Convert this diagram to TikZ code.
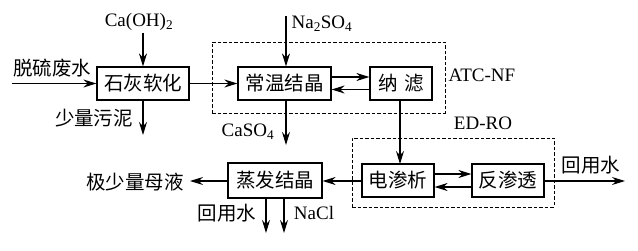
\documentclass[tikz,border=0pt]{standalone}
\usepackage{fontspec}
\setmainfont{Liberation Serif}
\newfontfamily\cjk{Noto Sans CJK SC}
\usetikzlibrary{arrows.meta}
\begin{document}
\begin{tikzpicture}[x=1pt,y=-1pt,
  box/.style={draw,line width=1.2pt,minimum height=33pt,inner sep=0pt,font=\cjk\fontsize{19.5}{19.5}\selectfont},
  lbl/.style={inner sep=0pt,font=\fontsize{19}{19}\selectfont},
  clbl/.style={inner sep=0pt,font=\cjk\fontsize{19.5}{19.5}\selectfont},
  arr/.style={line width=1.2pt,-{Stealth[length=13pt,width=8pt]}},
  grp/.style={draw,line width=0.9pt,dash pattern=on 3.5pt off 2pt}]
\useasboundingbox (0,0) rectangle (638,251);
% group boxes
\node[grp,minimum width=233pt,minimum height=71pt] (atc) at (328.5,77.5) {};
\node[grp,minimum width=202pt,minimum height=69pt] (edro) at (453,172.5) {};
% process boxes
\node[box,minimum width=92pt] (rhj) at (143,83.5) {石灰软化};
\node[box,minimum width=93pt] (cwjj) at (284.5,83.5) {常温结晶};
\node[box,minimum width=62pt] (nl) at (401,83.5) {纳\,\,滤};
\node[box,minimum width=72pt] (eds) at (398,180.5) {电渗析};
\node[box,minimum width=72pt] (fst) at (508,180.5) {反渗透};
\node[box,minimum width=94pt,minimum height=35pt] (zfjj) at (275,180.5) {蒸发结晶};
% labels
\node[clbl] (tlfs) at (52,68) {脱硫废水};
\node[lbl] (caoh) at (139,22) {Ca(OH)\textsubscript{2}};
\node[clbl] (slwn) at (94,118) {少量污泥};
\node[lbl] (na2so4) at (322,24) {Na\textsubscript{2}SO\textsubscript{4}};
\node[lbl] (atcnf) at (482,75) {ATC-NF};
\node[lbl] (caso4) at (248,132) {CaSO\textsubscript{4}};
\node[lbl] (edrol) at (483,123) {ED-RO};
\node[clbl] (hys1) at (591,165) {回用水};
\node[clbl] (jslmy) at (135,182) {极少量母液};
\node[clbl] (hys2) at (227,213) {回用水};
\node[lbl] (nacl) at (314,213) {NaCl};
% free ends
\coordinate (in0) at (12,83.5);
\coordinate (caohA) at (143,33);
\coordinate (slwnB) at (143,135);
\coordinate (naA) at (286,16);
\coordinate (casoB) at (286,145);
\coordinate (hysB) at (625,181);
\coordinate (mylB) at (190,181);
\coordinate (d1B) at (266,233);
\coordinate (d2B) at (284,233);
\coordinate (edsN) at (400,164);
% connectors
\draw[arr] (in0) -- (rhj.west);
\draw[arr] (caohA) -- (rhj.north);
\draw[arr] (rhj.south) -- (slwnB);
\draw[arr] (rhj.east) -- (cwjj.west);
\draw[arr] (naA) -- (naA |- cwjj.north);
\draw[arr] (casoB |- cwjj.south) -- (casoB);
\draw[arr] (cwjj.east |- 0,77) -- (nl.west |- 0,77);
\draw[arr] (nl.west |- 0,89.5) -- (cwjj.east |- 0,89.5);
\draw[arr] (nl.south -| edsN) -- (edsN);
\draw[arr] (eds.east |- 0,174) -- (fst.west |- 0,174);
\draw[arr] (fst.west |- 0,187) -- (eds.east |- 0,187);
\draw[arr] (fst.east |- hysB) -- (hysB);
\draw[arr] (eds.west |- 0,181) -- (zfjj.east |- 0,181);
\draw[arr] (zfjj.west |- mylB) -- (mylB);
\draw[arr] (d1B |- zfjj.south) -- (d1B);
\draw[arr] (d2B |- zfjj.south) -- (d2B);
\end{tikzpicture}
\end{document}
